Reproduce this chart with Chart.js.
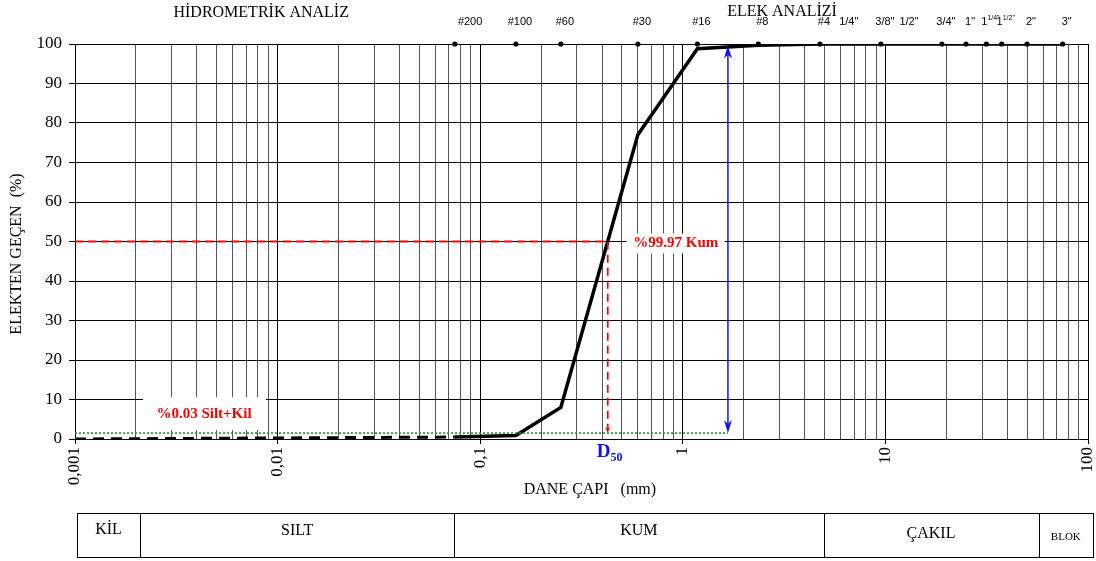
<!DOCTYPE html>
<html>
<head>
<meta charset="utf-8">
<script src="https://cdn.jsdelivr.net/npm/chart.js@4.4.1/dist/chart.umd.min.js"></script>
<style>
  html, body { margin: 0; padding: 0; background: #fff; }
  canvas { display: block; }
</style>
</head>
<body>
<canvas id="grain" width="1096" height="561"></canvas>
<script>
// Hydrometer part of the gradation curve (mm, % passing)
const hydroSizes   = [0.001, 0.075];
const hydroPassing = [0, 0.5];

// Sieve part of the gradation curve (mm, % passing)
const sieveSizes   = [0.075, 0.15, 0.25, 0.6, 1.18, 2.36, 4.75, 9.5, 19, 25, 31.5, 37.5, 50, 75];
const sievePassing = [0.5, 0.9, 8, 77, 98.8, 99.7, 100, 100, 100, 100, 100, 100, 100, 100];

// Sieve set shown along the top edge
const sieveNames    = ['#200', '#100', '#60', '#30', '#16', '#8', '#4', '1/4"', '3/8"', '1/2"', '3/4"', '1"', '1 1/4"', '1 1/2"', '2"', '3"'];
const sieveOpenings = [0.075, 0.15, 0.25, 0.6, 1.18, 2.36, 4.75, 6.3, 9.5, 12.5, 19, 25, 31.5, 37.5, 50, 75];
const sieveUsed     = [true, true, true, true, true, true, true, false, true, false, true, true, true, true, true, true];

// Axis tick labels
const xTickValues = [0.001, 0.01, 0.1, 1, 10, 100];
const xTickLabels = ['0,001', '0,01', '0,1', '1', '10', '100'];
const yTickStep = 5;
const yLabelStep = 10;

// Summary annotations
const finesPercent = 0.03;   // Silt + Kil
const sandPercent = 99.97;   // Kum
const finesLevel = 1.5;      // green reference line
const bracketSize = 1.67;    // mm, position of the blue bracket arrow
const bracketTop = 99.6;

// Soil class bands under the chart (boundaries in mm)
const classNames = ['KİL', 'SILT', 'KUM', 'ÇAKIL', 'BLOK'];
const classBounds = [0.00102, 0.0021, 0.0743, 4.95, 57, 106];

// D50 (log-linear interpolation)
function sizeAt(p) {
  for (let i = 1; i < sieveSizes.length; i++) {
    const p0 = sievePassing[i - 1], p1 = sievePassing[i];
    if (p0 <= p && p1 >= p) {
      const t = (p - p0) / (p1 - p0);
      const l0 = Math.log10(sieveSizes[i - 1]), l1 = Math.log10(sieveSizes[i]);
      return Math.pow(10, l0 + t * (l1 - l0));
    }
  }
  return null;
}
const d50 = sizeAt(50);

// Log grid: 1..9 in every decade
const xGrid = [];
for (let e = -3; e <= 1; e++) {
  for (let m = 1; m <= 9; m++) xGrid.push(+(m * Math.pow(10, e)).toPrecision(3));
}
xGrid.push(100);

const isDecade = v => Math.abs(Math.log10(v) - Math.round(Math.log10(v))) < 1e-6;

const SERIF = '"Liberation Serif", "Times New Roman", serif';
const SANS = '"Liberation Sans", Arial, sans-serif';

function arrowHead(ctx, x, y, dir, len, half) {
  ctx.beginPath();
  ctx.moveTo(x, y);
  ctx.lineTo(x - half, y - dir * len);
  ctx.lineTo(x, y - dir * len * 0.7);
  ctx.lineTo(x + half, y - dir * len);
  ctx.closePath();
  ctx.fill();
}

const overlay = {
  id: 'overlay',
  afterDatasetsDraw(chart) {
    const ctx = chart.ctx;
    const xs = chart.scales.x, ys = chart.scales.y;
    const X = v => xs.getPixelForValue(v), Y = v => ys.getPixelForValue(v);
    const area = chart.chartArea;
    ctx.save();

    // green reference line
    ctx.strokeStyle = '#1f9a1f';
    ctx.lineWidth = 1.6;
    ctx.setLineDash([2, 2]);
    ctx.beginPath();
    ctx.moveTo(area.left, Y(finesLevel));
    ctx.lineTo(X(bracketSize), Y(finesLevel));
    ctx.stroke();

    // D50 construction
    ctx.strokeStyle = '#ff0000';
    ctx.fillStyle = '#ff0000';
    ctx.lineWidth = 1.8;
    ctx.setLineDash([8, 5]);
    ctx.beginPath();
    ctx.moveTo(area.left, Y(50));
    ctx.lineTo(X(d50), Y(50));
    ctx.lineTo(X(d50), Y(finesLevel) - 4);
    ctx.stroke();
    ctx.setLineDash([]);
    arrowHead(ctx, X(d50), Y(finesLevel), 1, 6, 2.5);

    // blue bracket arrow
    ctx.strokeStyle = '#1010ff';
    ctx.fillStyle = '#1010ff';
    ctx.lineWidth = 1.5;
    const bx = X(bracketSize);
    ctx.beginPath();
    ctx.moveTo(bx, Y(bracketTop) + 4);
    ctx.lineTo(bx, Y(finesLevel) - 4);
    ctx.stroke();
    arrowHead(ctx, bx, Y(bracketTop), -1, 13, 4);
    arrowHead(ctx, bx, Y(finesLevel), 1, 13, 4);

    // D50 label
    ctx.fillStyle = '#1010ff';
    ctx.textBaseline = 'alphabetic';
    ctx.textAlign = 'left';
    ctx.font = 'bold 19px ' + SERIF;
    const dx = X(d50) - 11;
    ctx.fillText('D', dx, 457);
    const dw = ctx.measureText('D').width;
    ctx.font = 'bold 12px ' + SERIF;
    ctx.fillText('50', dx + dw, 461);

    // percentage labels on white boxes
    ctx.font = 'bold 15px ' + SERIF;
    ctx.textBaseline = 'middle';
    ctx.textAlign = 'center';
    const sandTxt = '%' + sandPercent.toFixed(2) + ' Kum';
    const sx = X(d50) + 68, sy = Y(50) + 2;
    ctx.fillStyle = '#fff';
    ctx.fillRect(sx - 49, sy - 10, 98, 20);
    ctx.fillStyle = '#ff0000';
    ctx.fillText(sandTxt, sx, sy);

    const finesTxt = '%' + finesPercent.toFixed(2) + ' Silt+Kil';
    const fx = 204, fy = Y(6.3);
    ctx.fillStyle = '#fff';
    ctx.fillRect(fx - 61, fy - 17, 123, 33);
    ctx.fillStyle = '#ff0000';
    ctx.fillText(finesTxt, fx, fy);
    ctx.restore();
  },
  afterDraw(chart) {
    const ctx = chart.ctx;
    const xs = chart.scales.x;
    const X = v => xs.getPixelForValue(v);
    ctx.save();

    // headings
    ctx.fillStyle = '#000';
    ctx.textBaseline = 'alphabetic';
    ctx.textAlign = 'center';
    ctx.font = '16px ' + SERIF;
    ctx.fillText('HİDROMETRİK ANALİZ', X(0.0083), 17);
    ctx.fillText('ELEK ANALİZİ', X(3.09), 16);

    // sieve names, centred a little right of each opening
    sieveNames.forEach((name, i) => {
      const px = X(sieveOpenings[i]);
      const parts = name.split(' ');
      ctx.font = '11px ' + SANS;
      const w = ctx.measureText(parts[0]).width;
      let sw = 0;
      if (parts.length > 1) {
        ctx.font = '7px ' + SANS;
        sw = ctx.measureText(parts[1]).width;
      }
      const total = w + sw;
      let left = px + 4 - total / 2;
      if (i === 0) left = px + 3;
      ctx.textAlign = 'left';
      ctx.font = '11px ' + SANS;
      ctx.fillText(parts[0], left, 25);
      if (parts.length > 1) {
        ctx.font = '7px ' + SANS;
        ctx.fillText(parts[1], left + w, 20);
      }
    });

    // axis titles
    ctx.font = '16px ' + SERIF;
    ctx.textAlign = 'center';
    ctx.textBaseline = 'middle';
    ctx.fillText('DANE ÇAPI   (mm)', X(0.348), 490);
    ctx.save();
    ctx.translate(17, 254);
    ctx.rotate(-Math.PI / 2);
    ctx.fillText('ELEKTEN GEÇEN  (%)', 0, 0);
    ctx.restore();

    // soil class table
    const top = 513, bot = 557;
    const edges = classBounds.map(X);
    ctx.strokeStyle = '#000';
    ctx.lineWidth = 1;
    ctx.strokeRect(Math.round(edges[0]) + 0.5, top + 0.5, Math.round(edges[edges.length - 1]) - Math.round(edges[0]), bot - top);
    for (let i = 1; i < edges.length - 1; i++) {
      const ex = Math.round(edges[i]) + 0.5;
      ctx.beginPath();
      ctx.moveTo(ex, top);
      ctx.lineTo(ex, bot);
      ctx.stroke();
    }
    ctx.fillStyle = '#000';
    ctx.textBaseline = 'middle';
    const rowY = [530, 531, 531, 534, 537];
    classNames.forEach((n, i) => {
      ctx.font = (n === 'BLOK' ? '11px ' : '16px ') + SERIF;
      ctx.fillText(n, (edges[i] + edges[i + 1]) / 2, rowY[i]);
    });
    ctx.restore();
  }
};

const hydroData = hydroSizes.map((s, i) => ({ x: s, y: hydroPassing[i] }));
const sieveData = sieveSizes.map((s, i) => ({ x: s, y: sievePassing[i] }));
const dotData = sieveOpenings.filter((s, i) => sieveUsed[i]).map(s => ({ x: s, y: 100 }));

new Chart(document.getElementById('grain'), {
  type: 'scatter',
  data: {
    datasets: [
      { data: hydroData, showLine: true, borderColor: '#000', borderWidth: 3, borderDash: [11, 7], pointRadius: 0 },
      { data: sieveData, showLine: true, borderColor: '#000', borderWidth: 3.5, pointRadius: 0, borderJoinStyle: 'miter' },
      { data: dotData, showLine: false, pointRadius: 2.6, pointBackgroundColor: '#000', pointBorderWidth: 0, clip: false }
    ]
  },
  options: {
    responsive: false,
    animation: false,
    devicePixelRatio: 1,
    layout: { padding: { top: 44, right: 8, left: 0, bottom: 0 } },
    plugins: { legend: { display: false }, tooltip: { enabled: false } },
    scales: {
      x: {
        type: 'logarithmic',
        min: 0.001,
        max: 100,
        afterBuildTicks: s => { s.ticks = xGrid.map(v => ({ value: v })); },
        afterFit: s => { s.height = 122; s.paddingLeft = 0; s.paddingRight = 0; },
        ticks: {
          autoSkip: false,
          minRotation: 90,
          maxRotation: 90,
          padding: 3,
          color: '#000',
          font: { family: SERIF, size: 17 },
          callback: v => {
            const k = xTickValues.findIndex(t => Math.abs(Math.log10(t) - Math.log10(v)) < 1e-6);
            return k >= 0 ? xTickLabels[k] : '';
          }
        },
        grid: {
          color: c => (c.tick && isDecade(c.tick.value)) ? '#000' : '#555',
          lineWidth: 1,
          tickLength: 5,
          tickColor: c => (c.tick && isDecade(c.tick.value)) ? '#000' : 'rgba(0,0,0,0)'
        },
        border: { color: '#000', width: 1 }
      },
      y: {
        min: 0,
        max: 100,
        afterFit: s => { s.width = 75; s.paddingTop = 0; s.paddingBottom = 0; },
        ticks: {
          stepSize: yTickStep,
          padding: 7,
          color: '#000',
          font: { family: SERIF, size: 17 },
          callback: v => (v % yLabelStep === 0 ? String(v) : '')
        },
        grid: {
          color: c => (c.tick && c.tick.value % yLabelStep === 0) ? '#000' : '#707070',
          lineWidth: 1,
          tickLength: 6,
          tickColor: c => (c.tick && c.tick.value % yLabelStep === 0) ? '#000' : 'rgba(0,0,0,0)'
        },
        border: { color: '#000', width: 1 }
      }
    }
  },
  plugins: [overlay]
});
</script>
</body>
</html>
